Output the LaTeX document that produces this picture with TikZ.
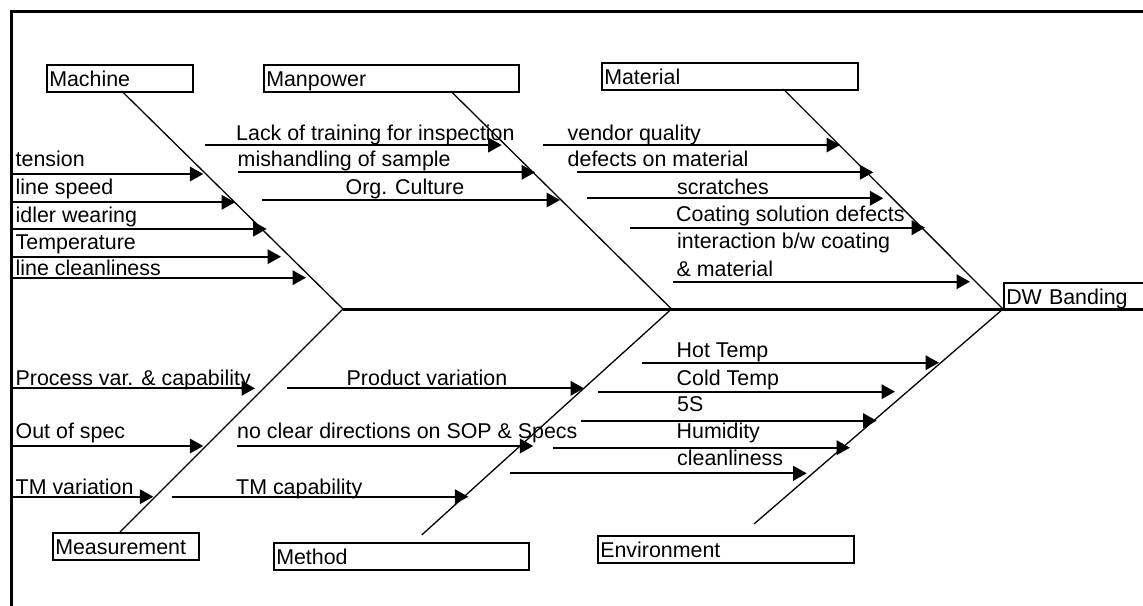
\documentclass[tikz,border=0pt]{standalone}
\usepackage{fontspec}
\setmainfont{Liberation Sans}
\usetikzlibrary{arrows.meta}

\tikzset{
  frame/.style={line width=3pt},
  spine/.style={line width=3pt},
  bone/.style={line width=1.3pt},
  causeline/.style={line width=2.2pt,-{Triangle[length=13.5pt,width=14.5pt]}},
  lbl/.style={anchor=base west, inner sep=0pt, font=\fontsize{21.4}{25}\selectfont},
  catbox/.style={draw, line width=1.5pt, anchor=north west, inner xsep=2.5pt,
    inner ysep=0pt, minimum height=27pt, text height=15.5pt, text depth=0pt,
    align=left, font=\fontsize{21.4}{25}\selectfont},
}

% one cause: name, tail x, tip x, arrow y, label x, label baseline y, label
\newcommand\fishcause[7]{%
  \coordinate (#1-tail) at (#2,#4);
  \coordinate (#1-tip) at (#3,#4);
  \draw[causeline] (#1-tail) -- (#1-tip);
  \node[lbl] (#1) at (#5,#6) {#7};}

\begin{document}
\begin{tikzpicture}[x=1pt,y=-1pt]
\useasboundingbox (0,0) rectangle (1143,605);
\clip (0,0) rectangle (1143,605);

% outer frame
\draw[frame] (11.5,11.5) rectangle (1170,630);

% category boxes
\node[catbox, text width=141pt] (machine)     at (46,64)   {Machine};
\node[catbox, text width=250pt] (manpower)    at (263,64)  {Manpower};
\node[catbox, text width=251pt] (material)    at (601,62)  {Material};
\node[catbox, text width=141pt] (measurement) at (52,532)  {Measurement};
\node[catbox, text width=250pt] (method)      at (273,542) {Method};
\node[catbox, text width=251pt] (environment) at (597,535) {Environment};
\node[catbox, text width=195pt] (effect)      at (1003,282) {DW Banding};

% spine junctions
\coordinate (j1) at (343,309);
\coordinate (j2) at (671.5,309);
\coordinate (j3) at (1003,309);
\coordinate (spine-end) at (1170,309);
\draw[spine] (j1) -- (spine-end);

% bone ends
\coordinate (b-mach) at (121.7,91);
\coordinate (b-man)  at (450.7,91);
\coordinate (b-mat)  at (783.3,89);
\coordinate (b-meas) at (120,532);
\coordinate (b-meth) at (421.7,535);
\coordinate (b-env)  at (754,524);

\draw[bone] (b-mach) -- (j1);
\draw[bone] (b-man)  -- (j2);
\draw[bone] (b-mat)  -- (j3);
\draw[bone] (b-meas) -- (j1);
\draw[bone] (b-meth) -- (j2);
\draw[bone] (b-env)  -- (j3);

% Machine
\fishcause{tension}{12}{203.3}{174}{15.5}{166.7}{tension}
\fishcause{speed}{12}{235}{202.3}{15.5}{194.3}{line speed}
\fishcause{idler}{12}{266.7}{229}{15.5}{222}{idler wearing}
\fishcause{temp}{12}{281}{256.7}{15.5}{249.3}{Temperature}
\fishcause{clean}{12}{306}{277.7}{15.5}{275.3}{line cleanliness}

% Manpower
\fishcause{training}{205}{501.7}{145}{236}{140}{Lack of training for inspection}
\fishcause{sample}{238}{535}{172.3}{237.5}{166.5}{mishandling of sample}
\fishcause{culture}{262.3}{560}{200}{345.5}{194}{Org. Culture}

% Material
\fishcause{vendor}{543.3}{840}{145}{567.5}{140}{vendor quality}
\fishcause{defects}{576.7}{873.3}{172.3}{567.5}{166.7}{defects on material}
\fishcause{scratch}{586.7}{883.3}{198.3}{677}{194.3}{scratches}
\fishcause{coating}{630}{925}{227.7}{676}{221.7}{Coating solution defects}
\fishcause{interact}{673.3}{970}{281.7}{677}{248.3}{interaction b/w coating}
\node[lbl] (interact2) at (676.5,276) {\& material};

% Measurement
\fishcause{procvar}{12}{255}{388.3}{15.5}{385}{Process var. \& capability}
\fishcause{outspec}{12}{203.3}{446}{15.5}{438.3}{Out of spec}
\fishcause{tmvar}{12}{153.3}{496.7}{15.5}{494}{TM variation}

% Method
\fishcause{prodvar}{287.3}{584}{388.3}{346.5}{385}{Product variation}
\fishcause{sop}{236.7}{533.3}{446}{237}{438.3}{no clear directions on SOP \& Specs}
\fishcause{tmcap}{171.7}{468.3}{496.7}{236}{494}{TM capability}

% Environment
\fishcause{hot}{641.7}{939}{362.7}{676.5}{357.7}{Hot Temp}
\fishcause{cold}{598.3}{895}{391.7}{676.5}{385}{Cold Temp}
\fishcause{fives}{581}{876.7}{420.7}{677}{411.7}{5S}
\fishcause{humid}{553.3}{850}{447.7}{676.5}{438.3}{Humidity}
\fishcause{envclean}{510}{806.7}{473.3}{677}{465.7}{cleanliness}

\end{tikzpicture}
\end{document}
